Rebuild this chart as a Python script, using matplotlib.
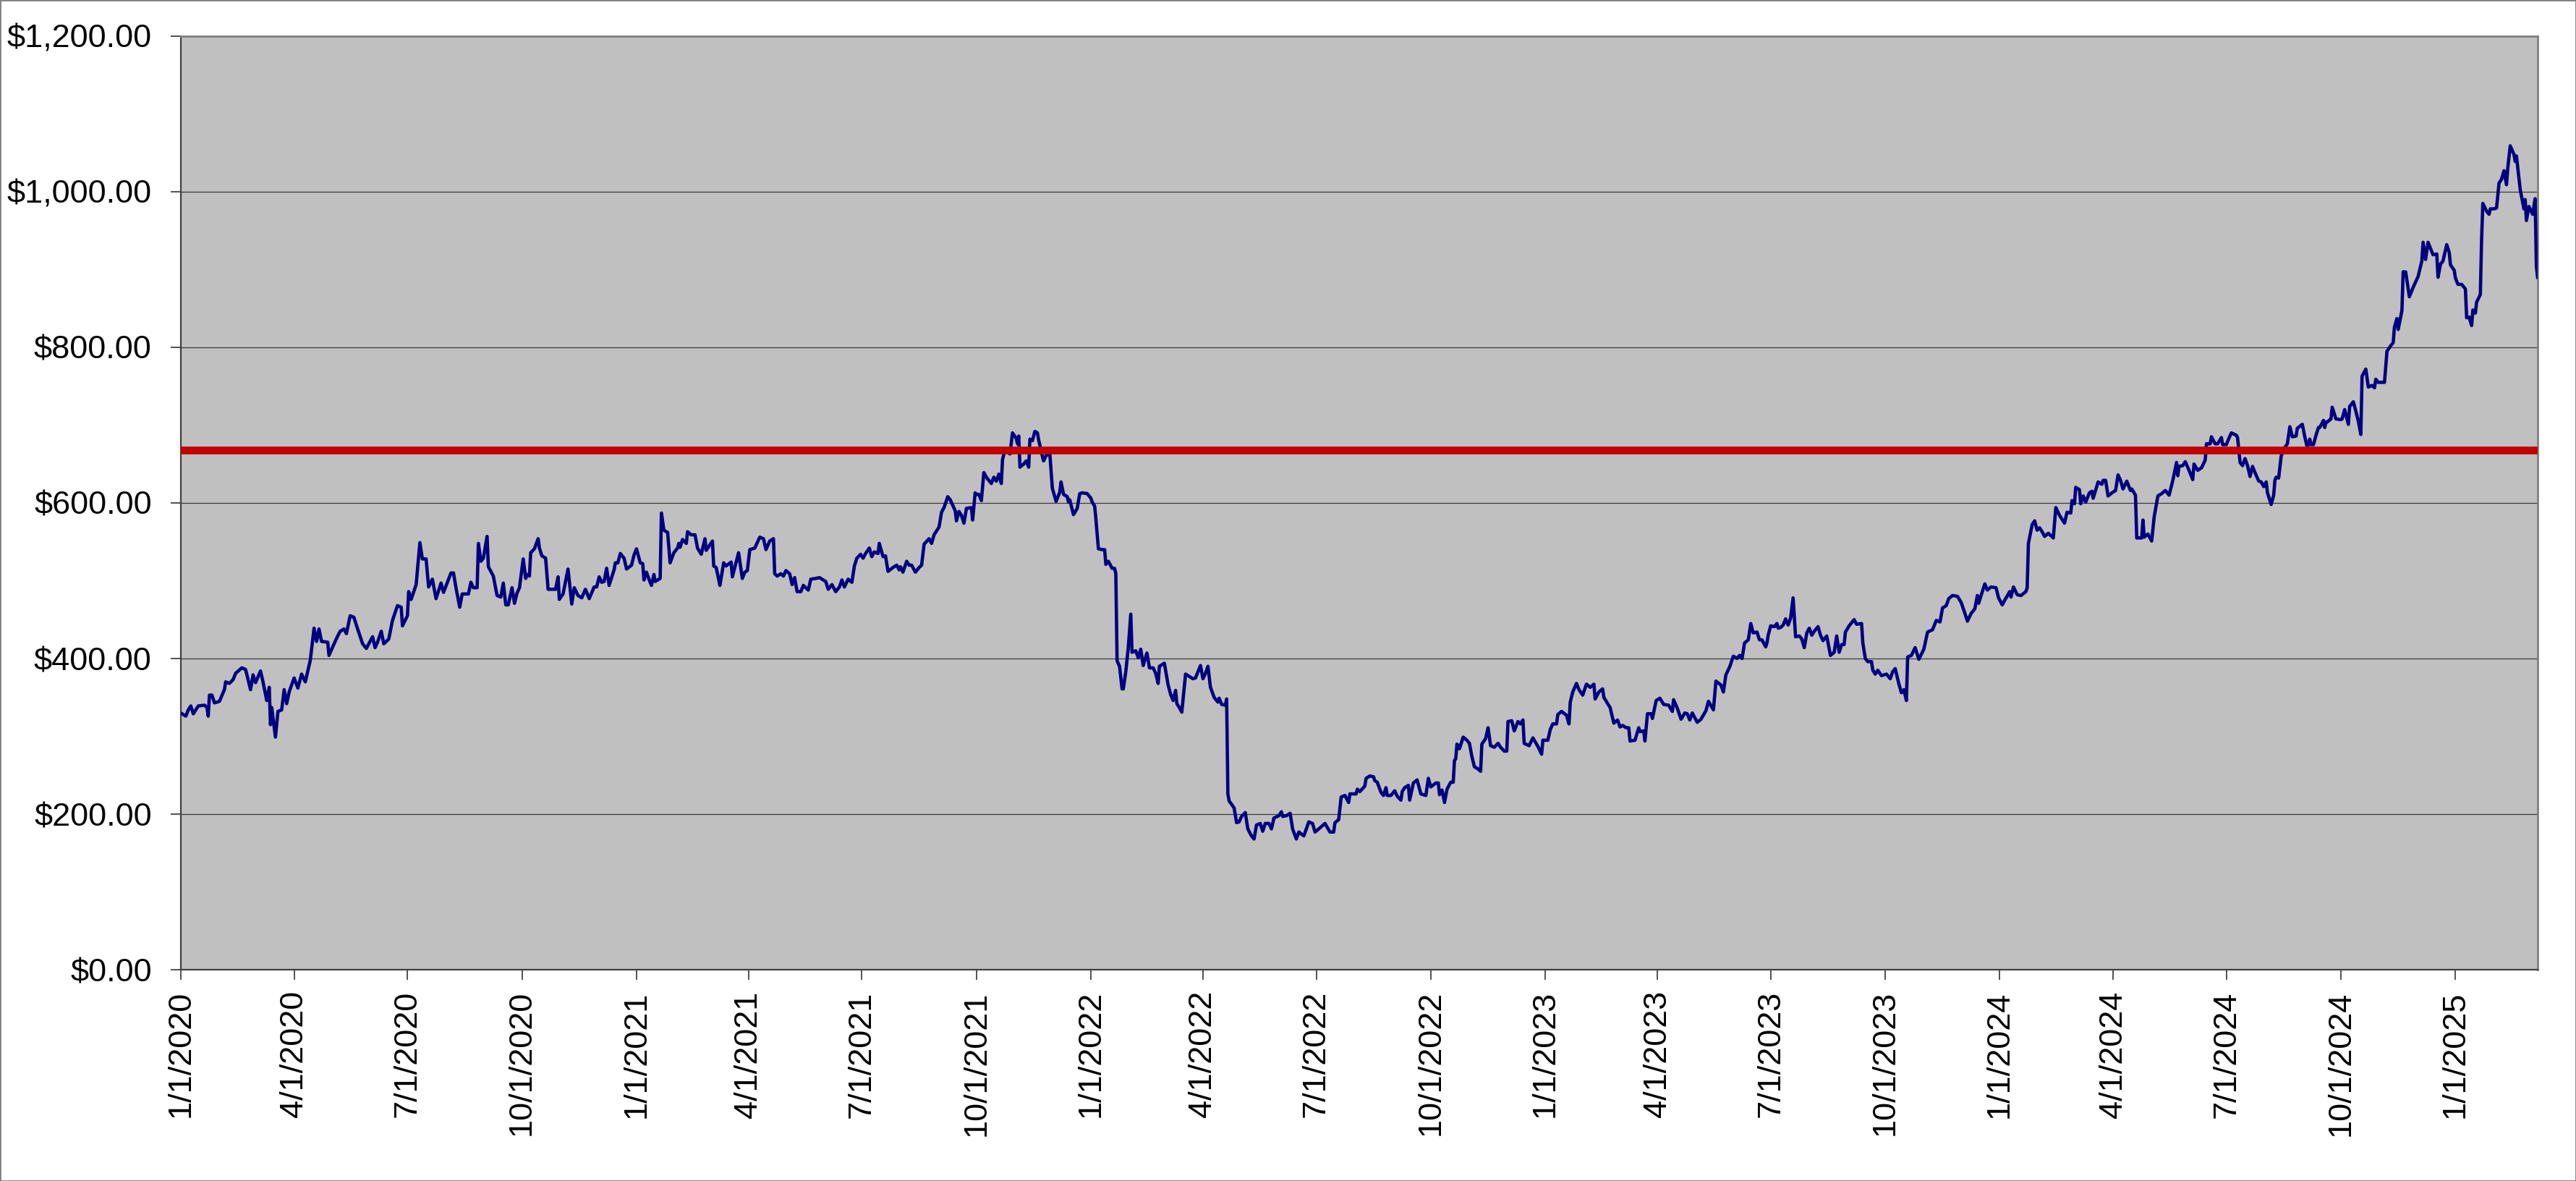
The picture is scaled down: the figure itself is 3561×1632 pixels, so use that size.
import pandas as pd
import matplotlib
matplotlib.use("Agg")
import matplotlib.pyplot as plt
from matplotlib.ticker import FuncFormatter, MultipleLocator
from matplotlib.patches import Rectangle

# day offsets from 1/1/2020 and closing price
d2020 = [1,4,6,8,10,14,19,21,22,23,25,27,31,35,36,39,42,44,49,52,54,56,58,60,64,66,69,71,72,73,
         76,78,81,83,85,87,91,94,97,100,104,107,109,111,113,118,119,122,126,128,131,133,136,139,142,146,149,154,156,158,
         161,163,167,170,174,177,178,182,183,185,189,192,194,197,199,202,205,209,211,217,219,221,224,226,231,233,235,238,239,241,
         243,246,247,251,254,257,259,261,263,266,268,270,272,275,277,278,280,281,284,287,288,290,293,295,298,301,303,304,307,311,
         314,316,319,322,325,328,332,334,336,338,340,342,344,348,349,351,353,356,358,362,364]
p2020 = [329,326,334,339,329,339,340,337,326,353,353,343,345,360,370,368,373,381,388,386,373,360,379,369,384,370,346,363,315,337,
         299,332,334,360,342,357,375,362,380,370,398,439,422,438,422,421,404,415,429,435,438,432,455,453,438,419,413,428,414,421,
         435,419,425,449,468,466,442,455,486,476,495,549,528,528,492,502,477,497,485,510,510,491,466,483,483,498,491,491,548,525,
         529,557,518,506,481,479,497,469,469,491,471,484,491,528,503,508,506,536,541,554,542,532,529,489,489,489,505,476,483,515,
         470,491,481,478,489,477,492,492,505,498,499,516,494,514,523,523,535,529,515,520,533]

d2021 = [366,369,371,372,374,376,378,380,381,385,386,388,391,393,396,399,400,401,403,406,407,410,413,415,418,421,422,427,428,430,
         433,436,438,442,443,448,451,453,455,457,461,465,468,470,473,476,477,479,482,484,486,489,491,493,495,498,500,504,506,510,
         513,518,520,523,526,529,531,533,536,539,541,543,546,548,550,553,555,557,560,561,564,566,568,572,575,577,578,580,583,585,
         587,590,593,595,597,601,603,605,609,611,613,616,618,620,622,623,625,627,629,631,635,636,638,639,641,643,645,647,651,653,
         655,657,659,660,662,666,668,671,672,673,674,677,679,681,682,684,686,688,689,692,693,695,698,700,703,706,707,709,712,713,
         714,717,720,722,724,728]
p2021 = [541,523,522,501,511,502,494,508,499,503,587,565,562,523,536,542,548,543,553,548,563,559,559,542,534,554,539,551,519,517,
         494,523,519,524,505,536,503,511,513,540,542,556,554,540,551,554,509,506,509,506,513,509,495,504,486,486,494,488,502,503,
         504,499,489,495,486,492,501,492,502,498,519,529,534,529,535,542,531,537,535,548,531,532,512,517,520,514,518,511,525,520,
         520,511,517,520,547,554,548,559,569,588,594,608,604,597,590,577,589,584,574,593,594,578,613,611,611,603,639,633,625,633,
         628,637,625,656,668,663,690,683,676,686,646,650,654,646,682,680,692,690,681,660,654,661,663,619,602,614,627,611,608,601,
         604,585,593,612,613,612]

d2022 = [731,732,734,735,737,740,742,743,745,748,750,751,752,754,756,757,759,761,763,764,767,769,771,773,774,776,778,781,783,785,
         786,790,793,795,797,799,800,802,804,807,810,813,815,819,821,823,825,827,830,833,834,836,839,840,841,842,846,848,850,852,
         855,857,860,862,864,867,869,871,874,876,878,882,884,885,888,891,893,896,898,902,904,906,909,911,914,919,923,926,927,930,
         932,935,938,939,944,945,947,951,952,955,958,959,961,964,966,968,969,972,975,977,980,981,983,986,987,990,993,994,996,1000,
         1002,1004,1008,1010,1011,1013,1015,1017,1020,1022,1023,1024,1025,1027,1030,1033,1035,1037,1039,1042,
         1044,1045,1048,1050,1052,1055,1058,1060,1063,1065,1066,1069,1071,1074,1076,1078,1079,1083,1086,1090,1093,1094]
p2022 = [606,601,596,579,541,540,540,521,525,516,516,509,397,390,361,361,383,414,457,408,410,401,412,391,397,407,388,388,381,368,
         390,394,366,354,346,359,342,337,331,380,377,374,375,391,374,381,390,363,350,344,349,341,340,348,226,217,208,189,190,197,
         202,181,172,168,186,188,178,188,188,181,195,198,203,197,198,201,181,168,177,172,181,190,188,177,181,188,177,177,189,193,
         222,224,215,226,226,232,229,236,246,249,248,243,241,228,224,234,224,224,230,223,218,229,234,237,218,240,244,238,226,224,
         246,235,240,240,225,231,215,232,241,241,269,271,290,284,299,295,291,274,261,258,
         255,290,297,311,288,286,291,286,281,281,319,320,307,319,316,321,291,288,298,287,277,295]

d2023 = [1098,1100,1102,1105,1106,1109,1113,1115,1116,1118,1121,1123,1126,1129,1132,1135,1136,1139,1142,1143,
         1148,1151,1154,1156,1158,1161,1163,1164,1168,1171,1172,1175,1176,1178,1181,1182,1185,1188,1191,1195,
         1198,1199,1202,1205,1208,1210,1212,1214,1218,1221,1225,1227,1231,1233,1237,1239,1241,1244,1247,1250,
         1252,1254,1256,1259,1261,1263,1266,1268,1270,1273,1274,1275,1277,1280,1282,1283,1285,1287,1289,1291,
         1293,1295,1297,1300,1302,1304,1306,1308,1310,1312,1315,1317,1319,1322,1325,1328,1330,1332,1334,1336,
         1337,1340,1344,1346,1350,1351,1353,1355,1358,1359,1361,1363,1366,1370,1373,1375,1377,1380,1382,1384,
         1386,1387,1390,1393,1396,1400,1403,1407,1410,1413,1415,1418,1420,1423,1427,1430,1433,1435,1438,1441,
         1443,1444,1449,1451,1454,1458,1460]
p2023 = [295,309,316,316,328,332,327,316,344,357,368,360,353,367,363,367,348,357,361,350,
         337,317,321,312,314,311,311,294,295,311,306,307,294,329,329,323,346,349,341,340,
         332,347,336,322,330,329,321,330,318,322,333,345,334,371,366,357,379,389,403,400,
         404,400,420,424,445,433,434,424,424,415,420,430,442,441,445,439,440,443,451,443,
         452,478,428,429,425,414,433,439,430,435,441,430,423,429,404,408,429,408,418,418,
         434,442,450,444,445,420,400,396,396,385,380,385,378,380,374,383,387,367,356,360,
         346,402,404,414,399,412,434,437,449,447,465,468,477,481,480,472,458,448,458,464,
         481,471,496,488,492,491,478]

d2024 = [1463,1465,1469,1470,1472,1475,1478,1482,1483,1484,1487,1489,1491,1493,1495,1497,1500,1504,1506,1509,
         1513,1515,1518,1519,1521,1522,1525,1526,1528,1530,1533,1535,1536,1540,1543,1544,1546,1548,1552,1554,
         1556,1558,1560,1563,1566,1567,1570,1571,1575,1576,1577,1580,1583,1585,1588,1591,1594,1597,1600,1603,
         1604,1605,1608,1610,1613,1616,1617,1620,1623,1626,1627,1630,1631,1634,1636,1639,1640,1643,1645,1647,
         1651,1652,1654,1656,1658,1660,1662,1664,1666,1669,1671,1673,1675,1676,1679,1681,1682,1683,1685,1687,
         1689,1692,1693,1694,1696,1699,1700,1704,1706,1708,1710,1711,1713,1715,1717,1718,1721,1722,1723,1724,
         1727,1728,1731,1735,1736,1738,1741,1742,1745,1747,1749,1751,1752,1755,1757,1760,1762,1763,1765,1770,
         1772,1775,1777,1778,1780,1781,1784,1785,1787,1790,1793,1797,1800,1801,1803,1805,1809,1812,1813,1815,
         1817,1820,1822,1823,1826]
p2024 = [469,475,486,479,492,482,481,486,491,548,572,577,565,568,563,557,561,555,594,584,
         574,588,587,603,599,620,617,599,609,601,613,615,606,627,624,629,629,609,614,616,
         636,629,618,628,616,618,610,555,555,578,556,560,551,582,609,612,616,610,629,652,
         635,647,648,653,642,630,650,642,645,655,676,676,685,676,676,684,675,675,683,690,
         687,684,652,648,657,648,634,647,639,628,627,621,627,613,598,610,629,633,632,660,
         669,676,687,698,685,686,696,701,685,671,682,675,675,687,697,697,706,697,704,704,
         708,723,708,707,708,720,701,724,730,718,705,688,763,772,749,751,748,759,755,755,
         795,802,806,826,837,823,847,897,897,865,877,891,911,935,913,935,919,920,890,907,
         911,932,922,906,899]

d2025 = [1827,1829,1832,1835,1836,1838,1840,1841,1843,1844,1847,1848,1849,1852,1854,1855,1858,1860,1862,1864,
         1866,1868,1869,1871,1874,1875,1876,1879,1881,1882,1883,1884,1886,1889,1891,1892,1893]
p2025 = [889,881,881,875,838,839,828,848,844,858,868,939,985,975,971,978,978,979,1011,1016,
         1027,1009,1030,1059,1048,1039,1046,1003,986,978,990,963,981,971,991,904,890]

threshold = 668
start = pd.Timestamp("2020-01-01")

days = d2020 + d2021 + d2022 + d2023 + d2024 + d2025
prices = p2020 + p2021 + p2022 + p2023 + p2024 + p2025
dates = start + pd.to_timedelta(days, unit="D")

plt.rcParams['font.family'] = ['Liberation Sans', 'DejaVu Sans']

fig = plt.figure(figsize=(35.61, 16.32), dpi=100)
ax = fig.add_axes([0.0702, 0.1789, 0.9149, 0.7905])
ax.set_facecolor('#C0C0C0')

ax.plot(dates, prices, color='#000080', lw=3.3, zorder=3)
ax.axhline(threshold, color='#C00000', lw=7.7, zorder=4)

ax.set_ylim(0, 1200)
ax.yaxis.set_major_locator(MultipleLocator(200))
ax.yaxis.set_major_formatter(FuncFormatter(lambda v, p: f"${v:,.2f}"))
ax.grid(axis='y', color='#3a3a3a', lw=0.9)
ax.set_axisbelow(True)

ax.set_xlim(start, dates[-1])
ticks = pd.date_range("2020-01-01", "2025-01-01", freq="QS")
ax.set_xticks(ticks)
ax.set_xticklabels([f"{t.month}/{t.day}/{t.year}" for t in ticks], rotation=90)

ax.tick_params(labelsize=32.5, length=10, width=1.2, direction='out', color='#333333')
ax.tick_params(axis='y', pad=19)
ax.tick_params(axis='x', pad=11)

for s in ['top', 'right']:
    ax.spines[s].set_color('#808080')
    ax.spines[s].set_linewidth(2.0)
for s in ['left', 'bottom']:
    ax.spines[s].set_color('#404040')
    ax.spines[s].set_linewidth(1.6)

fig.add_artist(Rectangle((0, 0), 1, 1, transform=fig.transFigure,
                         fill=False, ec='#808080', lw=2))

fig.savefig('out.png', dpi=100)
